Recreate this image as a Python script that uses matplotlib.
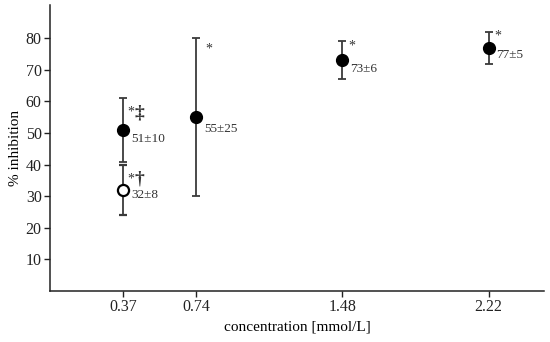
import matplotlib
matplotlib.use("Agg")
import matplotlib.pyplot as plt

plt.rcParams['font.family'] = ['Liberation Serif', 'DejaVu Serif']

# filled circles
conc = [0.37, 0.74, 1.48, 2.22]
mean = [51, 55, 73, 77]
sd = [10, 25, 6, 5]
# open circle
conc_open = [0.37]
mean_open = [32]
sd_open = [8]

labels = ["51\u00b110", "55\u00b125", "73\u00b16", "77\u00b15"]
label_open = "32\u00b18"
daggers = ["\u2021", "", "", ""]
dagger_open = "\u2020"

fig = plt.figure(figsize=(5.5, 3.42), dpi=100)
ax = fig.add_axes([0.091, 0.149, 0.898, 0.836])

ax.errorbar(conc, mean, yerr=sd, fmt='o', color='black', ms=8.5,
            ecolor='#3a3a3a', elinewidth=1.3, capsize=2.8, capthick=1.3, zorder=3)
ax.errorbar(conc_open, mean_open, yerr=sd_open, fmt='o', mfc='white', mec='black',
            mew=1.6, ms=8, ecolor='#3a3a3a', elinewidth=1.3, capsize=2.8,
            capthick=1.3, zorder=3)

# annotations
txt = dict(color='#333333', va='center', ha='left')
lab_dy = [-3.0, -3.7, -2.7, -2.2]
star_dy = [5.6, 21.6, 4.4, 3.6]
star_dx = [0.022, 0.045, 0.03, 0.03]
for x, y, lab, d, ldy, sdy, sdx in zip(conc, mean, labels, daggers, lab_dy, star_dy, star_dx):
    ax.text(x + 0.04, y + ldy, lab, fontsize=9.5, **txt)
    ax.text(x + sdx, y + sdy, "*", fontsize=10, **txt)
    if d:
        ax.text(x + sdx + 0.033, y + sdy - 0.2, d, fontsize=14, fontweight='bold', **txt)
ax.text(conc_open[0] + 0.04, mean_open[0] - 1.5, label_open, fontsize=9.5, **txt)
ax.text(conc_open[0] + 0.022, mean_open[0] + 3.6, "*", fontsize=10, **txt)
ax.text(conc_open[0] + 0.055, mean_open[0] + 3.6, dagger_open, fontsize=14,
        fontweight='bold', **txt)

ax.set_xlim(0, 2.5)
ax.set_ylim(0, 90.5)
ax.set_xticks(conc)
ax.set_xticklabels(["0.37", "0.74", "1.48", "2.22"])
ax.set_yticks([10, 20, 30, 40, 50, 60, 70, 80])
ax.tick_params(labelsize=11.5, length=4, width=1, colors='#222222', pad=2)
for s in ['top', 'right']:
    ax.spines[s].set_visible(False)
for s in ['left', 'bottom']:
    ax.spines[s].set_linewidth(1.1)
    ax.spines[s].set_color('#222222')

ax.set_xlabel("concentration [mmol/L]", fontsize=11, labelpad=4)
ax.set_ylabel("% inhibition", fontsize=11, labelpad=3)

fig.savefig("out.png", dpi=100)
